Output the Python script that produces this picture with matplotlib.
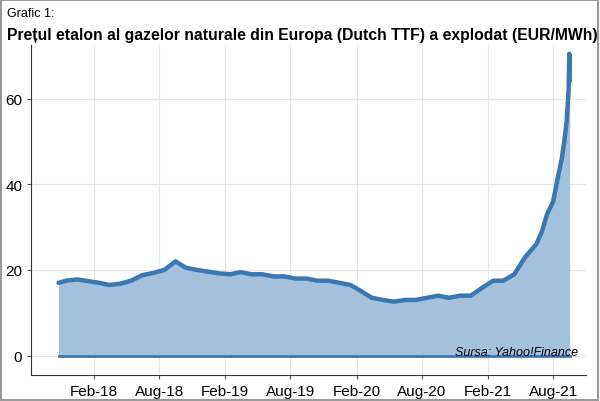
import pandas as pd
import matplotlib
matplotlib.use("Agg")
import matplotlib.pyplot as plt
import matplotlib.dates as mdates

plt.rcParams["font.family"] = ["Liberation Sans", "DejaVu Sans"]

dates = ["2017-10-25", "2017-11-15", "2017-12-15", "2018-01-15", "2018-02-15", "2018-03-15",
         "2018-04-15", "2018-05-15", "2018-06-15", "2018-07-15", "2018-08-15", "2018-09-15",
         "2018-10-15", "2018-11-15", "2018-12-15", "2019-01-15", "2019-02-15", "2019-03-15",
         "2019-04-15", "2019-05-15", "2019-06-15", "2019-07-15", "2019-08-15", "2019-09-15",
         "2019-10-15", "2019-11-15", "2019-12-15", "2020-01-15", "2020-02-15", "2020-03-15",
         "2020-04-15", "2020-05-15", "2020-06-15", "2020-07-15", "2020-08-15", "2020-09-15",
         "2020-10-15", "2020-11-15", "2020-12-15", "2021-01-15", "2021-02-15", "2021-03-15",
         "2021-04-15", "2021-05-15", "2021-06-15", "2021-07-01", "2021-07-15", "2021-08-01",
         "2021-08-15", "2021-08-25", "2021-09-01", "2021-09-08", "2021-09-13", "2021-09-15",
         "2021-09-16"]
prices = [17.0, 17.5, 17.8, 17.4, 17.0, 16.5,
          16.8, 17.5, 18.8, 19.3, 20.0, 22.0,
          20.5, 20.0, 19.6, 19.2, 19.0, 19.5,
          19.0, 19.0, 18.5, 18.5, 18.0, 18.0,
          17.5, 17.5, 17.0, 16.5, 15.0, 13.5,
          13.0, 12.6, 13.0, 13.0, 13.5, 14.0,
          13.5, 14.0, 14.0, 15.8, 17.5, 17.5,
          19.0, 23.0, 26.0, 29.0, 33.0, 36.0,
          42.0, 46.0, 50.0, 55.0, 62.0, 70.5,
          64.0]

x = pd.to_datetime(dates)

fig = plt.figure(figsize=(6.0, 4.02), dpi=100)
ax = fig.add_axes([0.052, 0.065, 0.925, 0.82])

ax.fill_between(x, prices, 0, color="#a3c0dd", lw=0)
ax.plot(x, prices, color="#3b78b1", lw=3.2, solid_capstyle="round")
ax.plot([x[0], x[-1]], [0, 0], color="#3b78b1", lw=2)

ax.set_xlim(pd.Timestamp("2017-08-10"), pd.Timestamp("2021-11-01"))
ax.set_ylim(-4.5, 72.5)
ax.set_yticks([0, 20, 40, 60])
ticks = pd.date_range("2018-02-01", "2021-08-01", freq="6MS")
ax.set_xticks(ticks)
ax.xaxis.set_major_formatter(mdates.DateFormatter("%b-%y"))
ax.tick_params(labelsize=11, length=3, color="#555555")
ax.grid(True, color="#e6e6e6", lw=0.8)
ax.set_axisbelow(True)
for side in ["top", "right"]:
    ax.spines[side].set_visible(False)
for side in ["left", "bottom"]:
    ax.spines[side].set_color("#333333")

ax.text(0.985, 0.06, "Sursa: Yahoo!Finance", transform=ax.transAxes, ha="right",
        fontsize=9, style="italic")
fig.text(0.012, 0.965, "Grafic 1:", fontsize=9, va="center")
fig.text(0.012, 0.912, "Prețul etalon al gazelor naturale din Europa (Dutch TTF) a explodat (EUR/MWh)",
         fontsize=11.3, fontweight="bold", va="center")
fig.patches.append(plt.Rectangle((0.002, 0.003), 0.995, 0.994, transform=fig.transFigure,
                                 fill=False, ec="#999999", lw=1.5))

fig.savefig("out.png", dpi=100)
